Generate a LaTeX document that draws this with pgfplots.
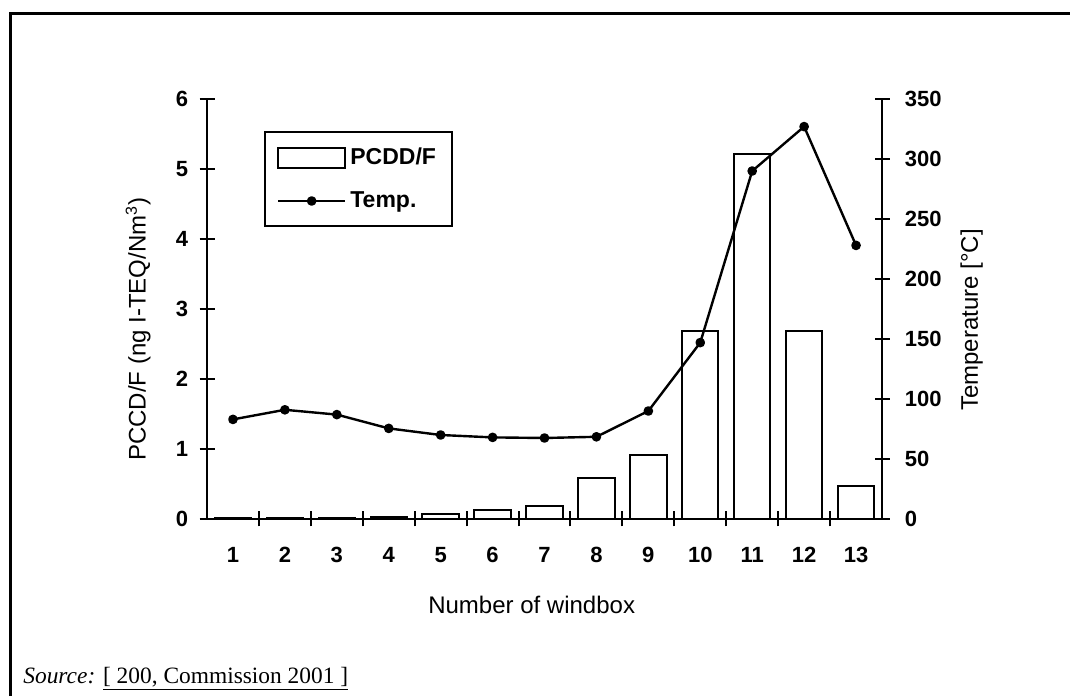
\documentclass[border=0pt]{standalone}
\usepackage{fontspec}
\setmainfont{Liberation Sans}
\newfontfamily\timesfont{Liberation Serif}
\usepackage{pgfplots}
\pgfplotsset{compat=1.18}
\begin{document}
\begin{tikzpicture}
\path[use as bounding box] (0,0) rectangle (535pt,348pt);
\draw[line width=1.5pt] (5pt,0pt) -- (5pt,341pt) -- (535pt,341pt);
\pgfplotsset{
 common/.style={
  scale only axis, width=337.5pt, height=210pt,
  at={(103.5pt,88.5pt)}, anchor=south west,
  xmin=0.5, xmax=13.5,
  axis line style={line width=1pt},
  tick style={line width=1pt, black},
  major tick length=7.5pt, tick align=center,
  tick label style={font=\fontsize{11}{13}\selectfont\bfseries},
  /pgf/number format/assume math mode=true,
  label style={font=\fontsize{12}{14}\selectfont},
 }
}
\begin{axis}[common,
  axis x line*=bottom, axis y line*=left,
  ymin=0, ymax=6, ytick={0,1,...,6},
  xtick={1,...,13}, xtick style={draw=none},
  xticklabel style={anchor=base, inner sep=0pt, yshift=-14pt},
  yticklabel style={anchor=east, inner sep=0pt, xshift=-5.5pt},
  xlabel={Number of windbox},
  xlabel style={at={(axis description cs:0.481,-0.205)}, anchor=center},
  ylabel={PCCD/F (ng I-TEQ/Nm\textsuperscript{3})},
  ylabel style={at={(axis description cs:-0.102,0.452)}, anchor=center},
  ybar, bar width=0.7,
]
\addplot[draw=black, fill=white, line width=1pt] coordinates {
(1,0.02) (2,0.015) (3,0.01) (4,0.03) (5,0.07) (6,0.13) (7,0.18)
(8,0.59) (9,0.92) (10,2.68) (11,5.21) (12,2.68) (13,0.47)};
\end{axis}
\begin{axis}[common,
  axis x line*=bottom, axis y line*=right,
  ymin=0, ymax=350, ytick={0,50,...,350},
  xtick={1.5,2.5,...,12.5}, xticklabels={},
  yticklabel style={anchor=west, inner sep=0pt, xshift=7.5pt},
  ylabel={Temperature [°C]},
  ylabel style={at={(axis description cs:1.133,0.474)}, anchor=center},
  legend style={at={(axis description cs:0.0844,0.924)}, anchor=north west,
    draw=black, line width=1pt, font=\fontsize{11.5}{13}\selectfont\bfseries,
    inner xsep=6pt, inner ysep=6pt, row sep=8pt, cells={anchor=west},
    /tikz/every even column/.append style={column sep=2pt}},
  legend cell align=left,
]
\addlegendimage{legend image code/.code={\draw[line width=1pt, fill=white] (0pt,-5pt) rectangle (33.5pt,5pt);}}
\addlegendentry{PCDD/F}
\addplot[black, line width=1.2pt, line join=round, mark=*, mark size=1.8pt,
  legend image code/.code={\draw[line width=1.2pt] (0pt,0pt) -- (33.5pt,0pt); \fill (16.75pt,0pt) circle (1.8pt);}]
coordinates {
(1,83) (2,91) (3,87) (4,75.5) (5,70) (6,68) (7,67.5) (8,68.5)
(9,90) (10,147) (11,290) (12,327) (13,228)};
\addlegendentry{Temp.}
\end{axis}
\node[anchor=base west, inner sep=0pt, font=\timesfont\fontsize{11.7}{14}\selectfont] at (11.5pt,6.5pt) {\textit{Source:} \underline{[ 200, Commission 2001 ]}};
\end{tikzpicture}
\end{document}
